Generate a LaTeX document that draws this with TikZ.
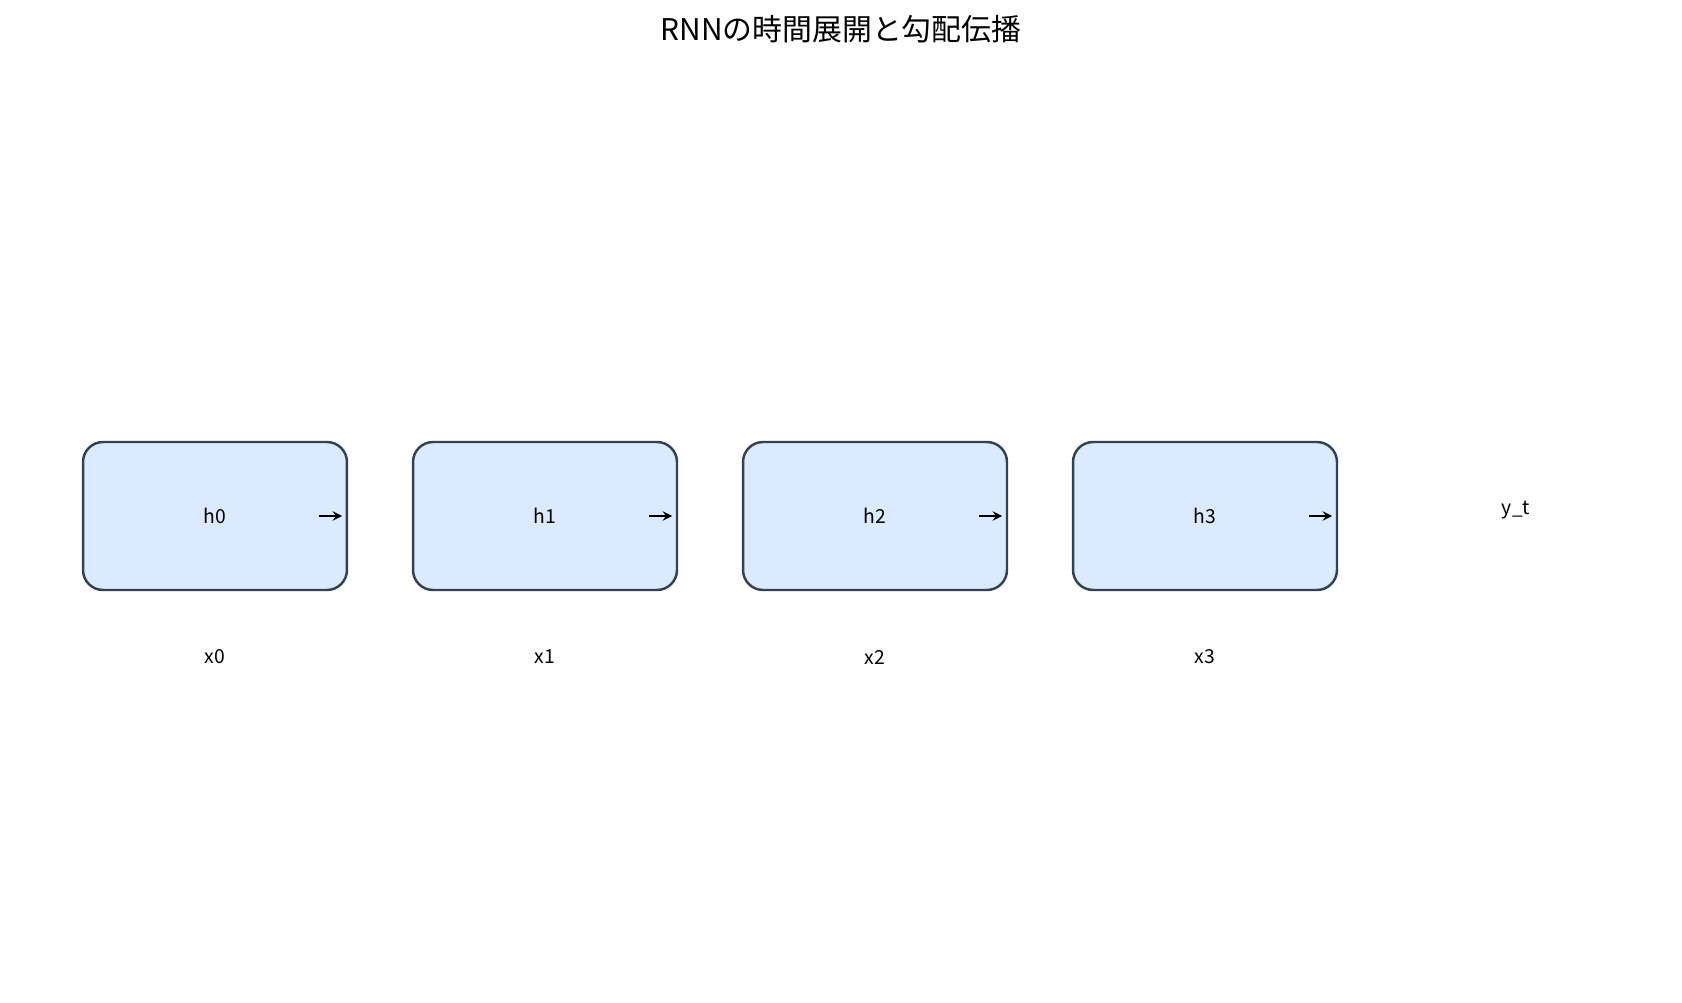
\documentclass[tikz,border=0pt]{standalone}
\usepackage{fontspec}
\setmainfont{Noto Sans CJK JP}
\usetikzlibrary{positioning,calc}
\definecolor{cellfill}{HTML}{DBEAFE}
\definecolor{celldraw}{HTML}{334155}
\tikzset{
	cell/.style={draw=celldraw,fill=cellfill,line width=1.4pt,rounded corners=.4cm,minimum width=5.28cm,minimum height=2.96cm,font=\fontsize{11}{13}\selectfont},
	lab/.style={font=\fontsize{11}{13}\selectfont},
	flow/.style={->,>=stealth,line width=1.4pt},
}
\begin{document}
\begin{tikzpicture}[x=0.02cm,y=-0.02cm]
	\useasboundingbox (0,0) rectangle (1682,1003);
	\node[font=\fontsize{17}{20}\selectfont] (title) at (841,29) {RNNの時間展開と勾配伝播};

	\foreach \i/\x in {0/215,1/545,2/875,3/1205}{
		\node[cell] (h\i) at (\x,516) {h\i};
		\node[lab] (x\i) at (\x,657) {x\i};
		\coordinate (a\i) at ($(h\i.east)+(-29,0)$);
		\coordinate (b\i) at ($(h\i.east)+(-6,0)$);
		\draw[flow] (a\i) -- (b\i);
	}
	\node[lab] (yt) at (1516,510) {y\_t};
\end{tikzpicture}
\end{document}
